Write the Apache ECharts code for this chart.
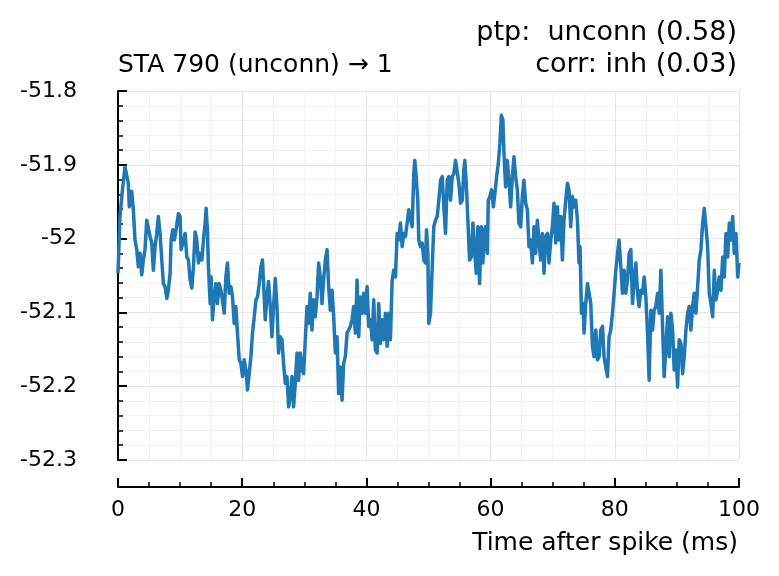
<!DOCTYPE html>
<html>
<head>
<meta charset="utf-8">
<script src="https://cdn.jsdelivr.net/npm/echarts@6/dist/echarts.min.js"></script>
<style>
  html, body { margin: 0; padding: 0; background: #fff; }
  #chart { width: 779px; height: 576px; }
</style>
</head>
<body>
<div id="chart"></div>
<script>
// ---- data (time after spike in ms, membrane potential in mV) ----
const timeMs = [
  0,0.32,0.76,1.13,1.4,1.66,1.82,2.21,2.47,2.74,3.02,3.27,3.55,3.82,4.08,4.35,4.63,4.89,5.16,5.44,5.69,5.97,6.24,6.5,6.77,7.05,7.31,7.58,7.85,8.11,8.39,8.55,8.82,9.08,9.35,9.73,10,10.16,10.44,
  10.81,11.08,11.34,11.61,11.89,12.15,12.42,12.69,12.95,13.23,13.5,13.76,14.03,14.19,14.4,14.56,14.84,15,15.21,15.48,15.76,16.02,16.29,16.56,16.82,17.1,17.37,17.63,17.9,18.18,18.44,18.71,18.98,19.24,19.52,19.79,20.05,20.32,20.6,20.85,21.13,21.4,21.66,21.94,22.21,22.47,22.74,23.02,23.27,
  23.71,23.98,24.24,24.52,24.79,25.05,25.32,25.6,25.85,26.13,26.4,26.66,26.94,27.21,27.47,27.74,28.02,28.27,28.55,28.82,29.08,29.35,29.63,29.89,30.16,30.44,30.69,30.97,31.24,31.5,31.77,32.05,32.31,32.58,32.85,33.11,33.39,33.66,33.92,34.19,34.47,34.73,35,35.27,35.53,35.81,36.08,
  36.34,36.61,36.89,37.15,37.42,37.69,37.95,38.23,38.5,38.76,39.03,39.31,39.56,39.84,40.11,40.37,40.65,40.92,41.18,41.45,41.73,41.98,42.26,42.53,42.79,43.06,43.34,43.6,43.87,44.15,44.4,44.68,44.95,45.21,45.48,45.76,46.02,46.29,46.56,46.82,
  47.1,47.37,47.63,47.79,48.02,48.27,48.44,48.71,48.98,49.24,49.52,49.68,49.89,50.05,50.32,50.6,50.85,51.13,51.4,51.66,51.94,52.21,52.47,52.74,53.02,53.27,53.55,53.82,54.08,54.35,54.63,54.89,55.16,55.44,55.69,55.85,56.08,56.34,56.61,56.89,57.15,57.42,57.69,57.95,58.23,58.5,58.76,59.03,
  59.19,59.47,59.63,59.89,60.16,60.44,60.69,60.97,61.24,61.5,61.73,61.98,62.15,62.42,62.69,62.95,63.23,63.5,63.76,64.03,64.31,64.56,64.84,65.11,65.37,65.65,65.92,66.18,66.45,66.73,66.98,67.26,67.53,67.79,68.06,68.34,68.6,68.87,69.15,69.4,69.68,69.95,70.21,70.48,70.76,71.02,
  71.29,71.56,71.82,72.1,72.37,72.63,72.9,73.18,73.44,73.71,73.98,74.24,74.4,74.63,74.89,75.05,75.32,75.6,75.85,76.13,76.4,76.66,76.94,77.21,77.47,77.74,78.02,78.27,78.55,78.82,79.08,79.35,79.63,79.89,80.16,80.44,80.69,80.97,81.24,81.5,81.77,82.05,82.31,82.58,82.85,83.11,
  83.39,83.66,83.92,84.19,84.47,84.73,85,85.27,85.53,85.81,86.08,86.34,86.61,86.89,87.15,87.42,87.69,87.95,88.23,88.5,88.76,89.03,89.31,89.56,89.84,90.11,90.37,90.65,90.92,91.18,91.45,91.73,91.98,92.26,92.53,92.79,93.06,93.34,93.6,93.87,94.15,94.4,94.68,94.95,95.21,95.48,95.76,96.02,96.29,96.56,96.82,97.1,97.37,97.63,97.9,98.18,98.44,98.71,98.98,99.24,99.52,99.79,100
];
const potentialMv = [
  -52.047,-51.970,-51.930,-51.903,-51.903,-51.925,-51.957,-51.936,-51.961,-52.002,-52.015,-52.038,-52.020,-52.049,-52.029,-52.015,-51.975,-51.977,-51.997,-52.006,-52.043,-52.011,-51.993,-51.970,-51.993,-52.029,-52.061,-52.065,-52.081,-52.070,-52.047,-52.002,-51.988,-52.002,-51.988,-51.966,-51.970,-52.015,-52.006,
  -51.993,-52.025,-52.029,-52.056,-52.067,-52.038,-51.991,-52.002,-52.033,-52.020,-52.029,-52.002,-51.979,-51.959,-51.988,-52.038,-52.088,-52.052,-52.110,-52.079,-52.061,-52.088,-52.061,-52.070,-52.083,-52.101,-52.052,-52.033,-52.074,-52.065,-52.079,-52.115,-52.092,-52.128,-52.164,-52.169,-52.187,-52.164,-52.178,-52.205,-52.183,-52.160,-52.128,-52.106,-52.083,-52.079,-52.061,-52.038,-52.029,
  -52.110,-52.079,-52.058,-52.092,-52.133,-52.092,-52.054,-52.092,-52.155,-52.133,-52.137,-52.169,-52.196,-52.187,-52.228,-52.214,-52.187,-52.228,-52.196,-52.155,-52.192,-52.155,-52.178,-52.183,-52.137,-52.092,-52.115,-52.074,-52.124,-52.083,-52.106,-52.079,-52.033,-52.052,-52.088,-52.056,-52.029,-52.015,-52.065,-52.097,-52.070,-52.106,-52.155,-52.133,-52.210,-52.174,-52.219,
  -52.169,-52.160,-52.128,-52.128,-52.119,-52.110,-52.092,-52.128,-52.056,-52.133,-52.079,-52.101,-52.074,-52.101,-52.065,-52.119,-52.110,-52.137,-52.083,-52.151,-52.155,-52.088,-52.142,-52.110,-52.137,-52.101,-52.146,-52.101,-52.137,-52.056,-52.043,-52.052,-51.993,-52.002,-51.979,-52.011,-51.993,-51.997,-51.979,-51.961,
  -51.961,-51.984,-51.912,-51.894,-51.916,-51.948,-52.002,-52.011,-52.006,-52.029,-52.033,-51.988,-52.020,-52.115,-52.101,-52.038,-51.984,-51.975,-51.970,-51.948,-51.921,-51.916,-51.957,-51.993,-51.921,-51.916,-51.948,-51.916,-51.912,-51.894,-51.894,-51.925,-51.952,-51.948,-51.907,-51.894,-51.925,-51.975,-52.029,-52.025,-51.979,-52.015,-52.047,-51.984,-52.061,-51.984,-52.033,-51.988,
  -51.984,-52.020,-51.948,-51.943,-51.934,-51.957,-51.939,-51.916,-51.898,-51.871,-51.833,-51.839,-51.884,-51.930,-51.894,-51.921,-51.957,-51.916,-51.889,-51.916,-51.934,-51.979,-51.984,-51.943,-51.921,-51.952,-51.961,-52.011,-52.002,-52.033,-51.984,-52.020,-51.975,-52.002,-52.029,-51.993,-52.047,-51.997,-51.993,-52.033,-52.002,-51.984,-51.952,-52.006,-51.957,-52.002,
  -51.970,-52.029,-51.975,-51.948,-51.925,-51.934,-51.984,-51.943,-51.957,-51.948,-51.975,-52.033,-52.011,-52.101,-52.088,-52.128,-52.088,-52.061,-52.061,-52.088,-52.146,-52.160,-52.124,-52.164,-52.160,-52.124,-52.119,-52.160,-52.174,-52.187,-52.133,-52.124,-52.101,-52.074,-52.043,-52.020,-52.002,-52.038,-52.074,-52.043,-52.074,-52.056,-52.020,-52.015,-52.088,-52.056,
  -52.033,-52.074,-52.092,-52.070,-52.074,-52.052,-52.079,-52.128,-52.192,-52.097,-52.124,-52.097,-52.092,-52.074,-52.101,-52.043,-52.119,-52.187,-52.146,-52.106,-52.160,-52.101,-52.124,-52.178,-52.151,-52.201,-52.137,-52.142,-52.183,-52.160,-52.124,-52.101,-52.092,-52.124,-52.092,-52.074,-52.101,-52.065,-52.029,-52.015,-51.979,-51.959,-51.984,-52.011,-52.074,-52.088,-52.106,-52.043,-52.083,-52.070,-52.052,-52.070,-52.025,-52.052,-51.993,-52.025,-51.979,-52.002,-51.970,-52.020,-51.993,-52.052,-52.033
];
const titleLeft = 'STA 790 (unconn) \u2192 1';
const titleRight1 = 'ptp:  unconn (0.58)';
const titleRight2 = 'corr: inh (0.03)';
const xAxisTitle = 'Time after spike (ms)';
const xRange = [0, 100];
const yRange = [-52.3, -51.8];

// ---- chart ----
const FONT = '"DejaVu Sans", sans-serif';
const chart = echarts.init(document.getElementById('chart'), null, { renderer: 'canvas' });
const n = Math.min(timeMs.length, potentialMv.length);
const seriesData = [];
for (let i = 0; i < n; i++) seriesData.push([timeMs[i], potentialMv[i]]);

const PLOT_L = 118, PLOT_R = 40, PLOT_T = 91, PLOT_B = 116;

chart.setOption({
  animation: false,
  backgroundColor: '#ffffff',
  grid: { left: PLOT_L, right: PLOT_R, top: PLOT_T, bottom: PLOT_B, containLabel: false },
  xAxis: {
    type: 'value', min: xRange[0], max: xRange[1], interval: 20, offset: 27,
    axisLine: { show: true, lineStyle: { color: '#000', width: 2 } },
    axisTick: { show: true, inside: true, length: 9, lineStyle: { color: '#000', width: 2 } },
    minorTick: { show: true, splitNumber: 4, length: 5, lineStyle: { color: '#000', width: 1.5 } },
    splitLine: { show: true, lineStyle: { color: '#e4e4e4', width: 1 } },
    minorSplitLine: { show: true, lineStyle: { color: '#f3f3f3', width: 1 } },
    axisLabel: { color: '#000', fontSize: 22, fontFamily: FONT, margin: 12 }
  },
  yAxis: {
    type: 'value', min: yRange[0], max: yRange[1], interval: 0.1, offset: 27,
    axisLine: { show: true, lineStyle: { color: '#000', width: 2 } },
    axisTick: { show: true, inside: true, length: 9, lineStyle: { color: '#000', width: 2 } },
    minorTick: { show: true, splitNumber: 5, length: 5, lineStyle: { color: '#000', width: 1.5 } },
    splitLine: { show: true, lineStyle: { color: '#e4e4e4', width: 1 } },
    minorSplitLine: { show: true, lineStyle: { color: '#f3f3f3', width: 1 } },
    axisLabel: { color: '#000', fontSize: 22, fontFamily: FONT, margin: 14,
      formatter: v => String(Math.round(v * 10) / 10) }
  },
  series: [{
    type: 'line', data: seriesData, showSymbol: false, symbol: 'none',
    lineStyle: { color: '#1f77b4', width: 3.5, join: 'round' },
    z: 3
  }],
  graphic: [
    { type: 'text', x: 118, y: 65, style: { text: titleLeft, fontSize: 25, fontFamily: FONT, fill: '#000', align: 'left', verticalAlign: 'middle' } },
    { type: 'text', x: 737, y: 33, style: { text: titleRight1, fontSize: 27, fontFamily: FONT, fill: '#000', align: 'right', verticalAlign: 'middle' } },
    { type: 'text', x: 737, y: 65, style: { text: titleRight2, fontSize: 27, fontFamily: FONT, fill: '#000', align: 'right', verticalAlign: 'middle' } },
    { type: 'text', x: 738, y: 543, style: { text: xAxisTitle, fontSize: 25, fontFamily: FONT, fill: '#000', align: 'right', verticalAlign: 'middle' } }
  ]
});
</script>
</body>
</html>
